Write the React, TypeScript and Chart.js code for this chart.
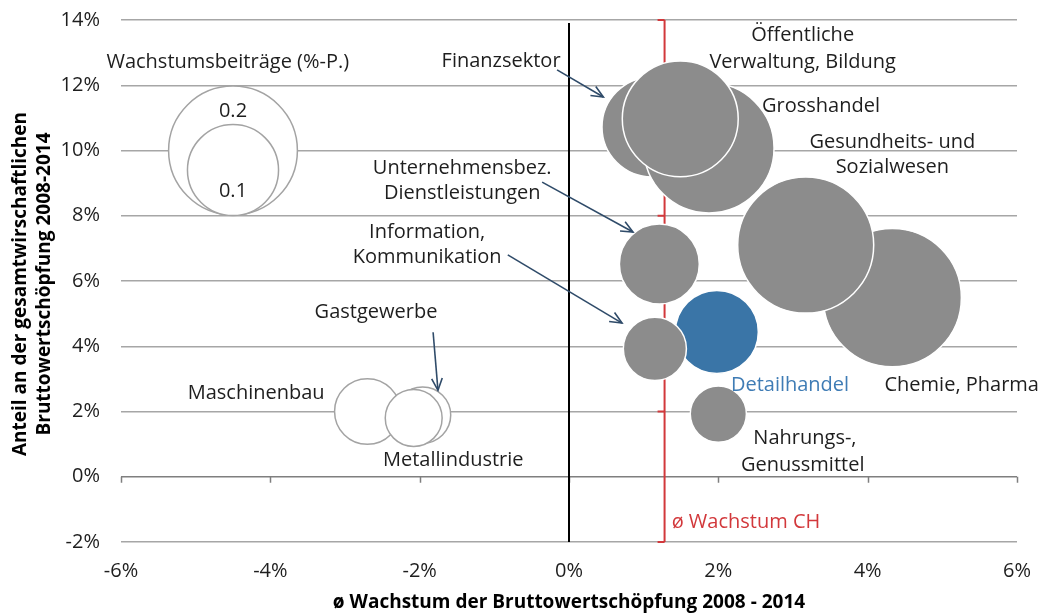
import React, { useEffect, useRef } from 'react';
import { Chart, registerables } from 'chart.js';

Chart.register(...registerables);

// ---------- data ----------
const sectors = [
  'Maschinenbau',
  'Gastgewerbe',
  'Metallindustrie',
  'Finanzsektor',
  'Grosshandel',
  'Öffentliche Verwaltung, Bildung',
  'Chemie, Pharma',
  'Gesundheits- und Sozialwesen',
  'Unternehmensbez. Dienstleistungen',
  'Detailhandel',
  'Information, Kommunikation',
  'Nahrungs-, Genussmittel',
];
// ø Wachstum der Bruttowertschöpfung 2008-2014 (%)
const growth = [-2.7, -1.96, -2.08, 1.11, 1.875, 1.49, 4.33, 3.17, 1.21, 1.98, 1.15, 2.0];
// Anteil an der gesamtwirtschaftlichen BWS (%)
const share = [2.0, 1.89, 1.8, 10.72, 10.08, 10.97, 5.49, 7.1, 6.52, 4.44, 3.92, 1.92];
// Wachstumsbeiträge (%-P.)
const contribution = [-0.052, -0.038, -0.039, 0.12, 0.204, 0.162, 0.23, 0.223, 0.077, 0.083, 0.048, 0.038];
const highlighted = 'Detailhandel';

const legendValues = [0.2, 0.1];
const legendGrowth = [-4.5, -4.5];
const legendShare = [10.0, 9.4];

const growthCH = 1.28;
const redCapLevels = [14, 8, 2, -2];

const xMin = -6, xMax = 6, xStep = 2;
const yMin = -2, yMax = 14, yStep = 2;

// ---------- styles ----------
const FONT = '"Open Sans", "DejaVu Sans", sans-serif';
const INK = '#1e1e1e';
const GREY_FILL = '#8c8c8c';
const BLUE = '#3a75a7';
const BLUE_TEXT = '#3f7cb5';
const RED = '#d2383b';
const ARROW = '#2f4b69';
const HOLLOW_EDGE = '#a3a3a3';
const PX_PER_SQRT = 144;

const radiusOf = (v: number) => PX_PER_SQRT * Math.sqrt(Math.abs(v));

type Note = { text: string; x: number; y: number; color?: string; align?: CanvasTextAlign };
const notes: Note[] = [
  { text: 'Wachstumsbeiträge (%-P.)', x: -4.57, y: 12.71 },
  { text: '0.2', x: -4.5, y: 11.21 },
  { text: '0.1', x: -4.5, y: 8.76 },
  { text: 'Finanzsektor', x: -0.91, y: 12.74 },
  { text: 'Öffentliche', x: 3.13, y: 13.54 },
  { text: 'Verwaltung, Bildung', x: 3.13, y: 12.71 },
  { text: 'Grosshandel', x: 3.375, y: 11.36 },
  { text: 'Gesundheits- und', x: 4.33, y: 10.26 },
  { text: 'Sozialwesen', x: 4.33, y: 9.49 },
  { text: 'Unternehmensbez.', x: -1.43, y: 9.46 },
  { text: 'Dienstleistungen', x: -1.43, y: 8.69 },
  { text: 'Information,', x: -1.9, y: 7.5 },
  { text: 'Kommunikation', x: -1.9, y: 6.73 },
  { text: 'Gastgewerbe', x: -2.585, y: 5.05 },
  { text: 'Maschinenbau', x: -4.19, y: 2.57 },
  { text: 'Metallindustrie', x: -1.55, y: 0.51 },
  { text: 'Detailhandel', x: 2.96, y: 2.81, color: BLUE_TEXT },
  { text: 'Chemie, Pharma', x: 5.26, y: 2.81 },
  { text: 'Nahrungs-,', x: 3.16, y: 1.19 },
  { text: 'Genussmittel', x: 3.13, y: 0.36 },
  { text: 'ø Wachstum CH', x: 2.37, y: -1.39, color: RED },
];

type Arrow = { x1: number; y1: number; x2: number; y2: number };
const arrows: Arrow[] = [
  { x1: -0.16, y1: 12.47, x2: 0.46, y2: 11.64 },
  { x1: -0.36, y1: 9.03, x2: 0.857, y2: 7.5 },
  { x1: -0.82, y1: 6.8, x2: 0.71, y2: 4.71 },
  { x1: -1.82, y1: 4.43, x2: -1.755, y2: 2.65 },
];

const xTitle = 'ø Wachstum der Bruttowertschöpfung 2008 - 2014';
const yTitle = ['Anteil an der gesamtwirschaftlichen', 'Bruttowertschöpfung 2008-2014'];

function drawArrow(ctx: CanvasRenderingContext2D, x1: number, y1: number, x2: number, y2: number) {
  ctx.beginPath();
  ctx.moveTo(x1, y1);
  ctx.lineTo(x2, y2);
  ctx.stroke();
  const a = Math.atan2(y2 - y1, x2 - x1);
  const L = 13, w = 0.42;
  ctx.beginPath();
  ctx.moveTo(x2 - L * Math.cos(a - w), y2 - L * Math.sin(a - w));
  ctx.lineTo(x2, y2);
  ctx.lineTo(x2 - L * Math.cos(a + w), y2 - L * Math.sin(a + w));
  ctx.stroke();
}

const overlay = {
  id: 'overlay',
  beforeDatasetsDraw(chart: any) {
    const { ctx, chartArea, scales } = chart;
    const x = scales.x, y = scales.y;
    ctx.save();
    // tick marks on the 0% line
    const y0 = y.getPixelForValue(0);
    ctx.strokeStyle = '#7f7f7f';
    ctx.lineWidth = 1.5;
    for (let v = xMin; v <= xMax + 1e-9; v += xStep) {
      const px = Math.round(x.getPixelForValue(v)) + 0.5;
      ctx.beginPath();
      ctx.moveTo(px, y0);
      ctx.lineTo(px, y0 + 6);
      ctx.stroke();
    }
    // black line at 0%
    const bx = x.getPixelForValue(0);
    ctx.strokeStyle = '#000';
    ctx.lineWidth = 2;
    ctx.beginPath();
    ctx.moveTo(bx, chartArea.top + 3);
    ctx.lineTo(bx, chartArea.bottom);
    ctx.stroke();
    // red line: ø Wachstum CH
    const rx = x.getPixelForValue(growthCH);
    ctx.strokeStyle = RED;
    ctx.lineWidth = 2;
    ctx.beginPath();
    ctx.moveTo(rx, chartArea.top);
    ctx.lineTo(rx, chartArea.bottom);
    ctx.stroke();
    for (const lv of redCapLevels) {
      const py = y.getPixelForValue(lv);
      ctx.beginPath();
      ctx.moveTo(rx - 7, py);
      ctx.lineTo(rx, py);
      ctx.stroke();
    }
    ctx.restore();
  },
  afterDatasetsDraw(chart: any) {
    const { ctx, chartArea, scales } = chart;
    const x = scales.x, y = scales.y;
    ctx.save();
    // arrows
    ctx.strokeStyle = ARROW;
    ctx.lineWidth = 1.6;
    for (const a of arrows) {
      drawArrow(ctx, x.getPixelForValue(a.x1), y.getPixelForValue(a.y1), x.getPixelForValue(a.x2), y.getPixelForValue(a.y2));
    }
    // notes
    ctx.font = `20px ${FONT}`;
    ctx.textBaseline = 'middle';
    for (const n of notes) {
      ctx.fillStyle = n.color || INK;
      ctx.textAlign = n.align || 'center';
      ctx.fillText(n.text, x.getPixelForValue(n.x), y.getPixelForValue(n.y));
    }
    // axis titles
    ctx.fillStyle = '#000';
    ctx.font = `bold 19px ${FONT}`;
    ctx.textAlign = 'center';
    ctx.fillText(xTitle, (chartArea.left + chartArea.right) / 2, 603);
    const cy = (chartArea.top + chartArea.bottom) / 2 + 3;
    ctx.save();
    ctx.translate(21, cy);
    ctx.rotate(-Math.PI / 2);
    ctx.fillText(yTitle[0], 0, 0);
    ctx.restore();
    ctx.save();
    ctx.translate(45, cy);
    ctx.rotate(-Math.PI / 2);
    ctx.fillText(yTitle[1], 0, 0);
    ctx.restore();
    ctx.restore();
  },
};

export default function App() {
  const ref = useRef<HTMLCanvasElement | null>(null);

  useEffect(() => {
    if (!ref.current) return;
    const sectorPoints = sectors.map((_, i) => ({ x: growth[i], y: share[i], r: radiusOf(contribution[i]) }));
    const legendPoints = legendValues.map((v, i) => ({ x: legendGrowth[i], y: legendShare[i], r: radiusOf(v) }));

    const chart = new Chart(ref.current, {
      type: 'bubble',
      data: {
        datasets: [
          {
            label: 'Branchen',
            data: sectorPoints,
            order: 0,
            clip: false as any,
            backgroundColor: (c: any) => {
              const i = c.dataIndex;
              if (sectors[i] === highlighted) return BLUE;
              return contribution[i] < 0 ? '#ffffff' : GREY_FILL;
            },
            borderColor: (c: any) => (contribution[c.dataIndex] < 0 ? HOLLOW_EDGE : '#ffffff'),
            borderWidth: 1.5,
          },
          {
            label: 'Wachstumsbeiträge',
            data: legendPoints,
            order: 1,
            clip: false as any,
            backgroundColor: '#ffffff',
            borderColor: HOLLOW_EDGE,
            borderWidth: 1.5,
          },
        ],
      },
      options: {
        responsive: false,
        animation: false,
        devicePixelRatio: 1,
        events: [],
        layout: { autoPadding: false, padding: { left: 0, top: 20, right: 29, bottom: 0 } },
        plugins: { legend: { display: false }, tooltip: { enabled: false } },
        scales: {
          x: {
            type: 'linear',
            min: xMin,
            max: xMax,
            grid: { display: false },
            border: { display: false },
            ticks: {
              stepSize: xStep,
              padding: 9,
              color: INK,
              font: { family: FONT, size: 20 },
              callback: (v: any) => `${v}%`,
            },
            afterFit: (s: any) => {
              s.height = 74;
              s.paddingLeft = 0;
              s.paddingRight = 0;
            },
          },
          y: {
            type: 'linear',
            min: yMin,
            max: yMax,
            grid: {
              color: (c: any) => (c.tick && c.tick.value === 0 ? '#7f7f7f' : '#a6a6a6'),
              lineWidth: 1.5,
              drawTicks: false,
            },
            border: { display: false },
            ticks: {
              stepSize: yStep,
              padding: 21,
              color: INK,
              font: { family: FONT, size: 20 },
              callback: (v: any) => `${v}%`,
            },
            afterFit: (s: any) => {
              s.width = 121;
              s.paddingTop = 0;
              s.paddingBottom = 0;
            },
          },
        },
      },
      plugins: [overlay],
    });
    return () => chart.destroy();
  }, []);

  return (
    <div style={{ position: 'fixed', left: 0, top: 0, width: 1046, height: 616, background: '#fff' }}>
      <canvas ref={ref} width={1046} height={616} style={{ display: 'block' }} />
    </div>
  );
}
